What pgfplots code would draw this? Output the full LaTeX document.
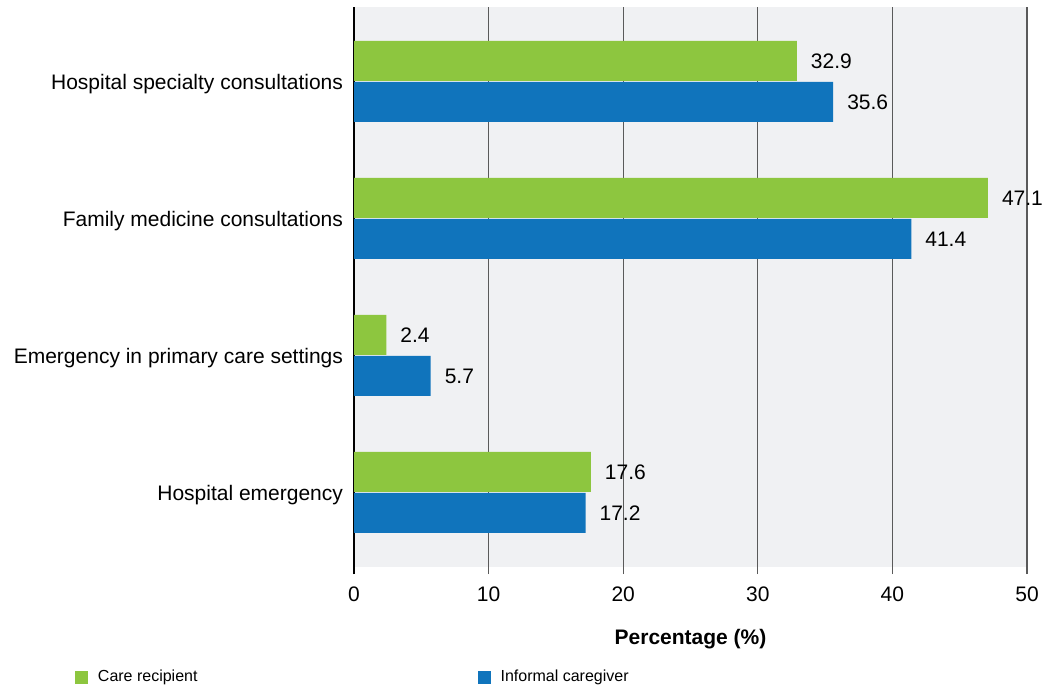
\documentclass[border=0pt]{standalone}
\usepackage{pgfplots}
\pgfplotsset{compat=1.18}
\usepackage{fontspec}
\setmainfont{Liberation Sans}
\definecolor{cgreen}{HTML}{8DC63F}
\definecolor{cblue}{HTML}{1074BC}
\definecolor{bgc}{HTML}{F0F1F3}
\definecolor{gridc}{HTML}{5A5A5A}
\begin{document}
\begin{tikzpicture}
\begin{axis}[
  set layers=standard,
  x=6.73pt, y=68.5pt,
  xmin=0, xmax=50, ymin=-0.595, ymax=3.544,
  axis line style={draw=none},
  tick style={draw=none},
  xtick={0,10,20,30,40,50},
  ytick={0,1,2,3},
  yticklabels={Hospital emergency, Emergency in primary care settings, Family medicine consultations, Hospital specialty consultations},
  xmajorgrids, ymajorgrids=false,
  major grid style={gridc, line width=0.6pt},
  tick label style={font=\fontsize{10.5}{12}\selectfont},
  /pgf/number format/assume math mode=true,
  yticklabel style={anchor=east, xshift=-2pt, yshift=-1.5pt},
  xticklabel style={yshift=-3pt},
  xlabel={Percentage (\%)},
  xlabel style={font=\fontsize{10.5}{12}\selectfont\bfseries, at={(axis description cs:0.5,0)}, anchor=center, yshift=-32.5pt},
  legend columns=2,
  legend style={at={(axis description cs:-0.4146,-0.1817)}, anchor=west, draw=none, fill=none, inner sep=0pt, outer sep=0pt, nodes={inner sep=0pt, font=\fontsize{8}{9.6}\selectfont}, /tikz/every odd column/.append style={column sep=5pt}, /tikz/every even column/.append style={column sep=140pt}},
  legend cell align=left,
  legend image code/.code={\fill[#1] (0pt,-3.25pt) rectangle (6.5pt,3.25pt);},
  barstyle/.style={xbar, bar width=20pt, draw=none, point meta=x, nodes near coords,
    nodes near coords style={font=\fontsize{10.5}{12}\selectfont, anchor=west, xshift=3.5pt, /pgf/number format/fixed, /pgf/number format/fixed zerofill, /pgf/number format/precision=1}},
]
\addplot[fill=bgc, draw=none, on layer=axis background, forget plot] coordinates {(0,-0.544) (50,-0.544) (50,3.544) (0,3.544)} -- cycle;
\addplot[black, line width=0.6pt, on layer=axis grid, forget plot] coordinates {(0,-0.595) (0,3.544)};
\addplot[barstyle, fill=cgreen, bar shift=10.25pt, every node near coord/.append style={/tikz/yshift=10.25pt}] coordinates {(17.6,0) (2.4,1) (47.1,2) (32.9,3)};
\addplot[barstyle, fill=cblue, bar shift=-10.25pt, every node near coord/.append style={/tikz/yshift=-10.25pt}] coordinates {(17.2,0) (5.7,1) (41.4,2) (35.6,3)};
\legend{Care recipient, Informal caregiver}
\end{axis}
\path (-177pt,-56.5pt) rectangle (349pt,287pt);
\end{tikzpicture}
\end{document}
